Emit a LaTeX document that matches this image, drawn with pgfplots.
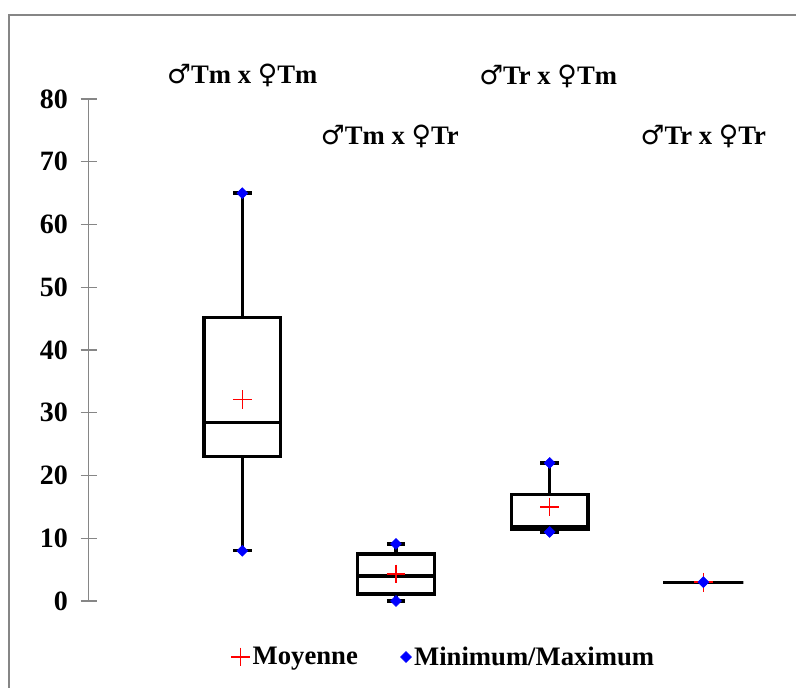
\documentclass[border=0pt]{standalone}
\usepackage{fontspec}
\setmainfont{Liberation Serif}
\newfontfamily\symfont{DejaVu Sans}
\usepackage{pgfplots}
\usepgfplotslibrary{statistics}
\pgfplotsset{compat=1.18}
\newcommand\male{{\symfont\mdseries ♂}}
\newcommand\female{{\symfont\mdseries ♀}}
\newcommand\bigfont{\fontsize{20}{24}\selectfont\bfseries}
\definecolor{axgray}{RGB}{134,134,134}
\begin{document}
\begin{tikzpicture}
\useasboundingbox (-66.45pt,-64.5pt) rectangle (530.55pt,450.75pt);
\draw[axgray, line width=1pt] (-59.7pt,-90pt) -- (-59.7pt,439.5pt) -- (560pt,439.5pt);
\begin{axis}[
  at={(0pt,0pt)}, anchor=south west, scale only axis,
  width=518.7pt, height=376.5pt,
  xmin=0, xmax=4.5, ymin=0, ymax=80,
  clip=false,
  hide x axis,
  axis y line*=left,
  axis line style={axgray, line width=1pt},
  ytick={0,10,...,80},
  tick align=center,
  major tick length=12pt,
  tick style={axgray, line width=1pt},
  yticklabel style={font=\fontsize{21}{24}\selectfont\bfseries, text=black, xshift=-6pt},
  /pgf/number format/assume math mode=true,
  boxplot/draw direction=y,
  legend style={at={(0.514,-0.1116)}, anchor=center, draw=none, fill=none,
    font=\bigfont, legend columns=2,
    /tikz/every even column/.append style={column sep=30pt}},
]
\addplot[draw=black, line width=2.5pt, forget plot,
  boxplot prepared={draw position=1, lower whisker=8, lower quartile=23,
  median=28.5, upper quartile=45.2, upper whisker=65, box extend=0.5, whisker extend=0.12}]
  coordinates {};
\addplot[draw=black, line width=2.5pt, forget plot,
  boxplot prepared={draw position=2, lower whisker=0, lower quartile=1.1,
  median=4, upper quartile=7.5, upper whisker=9.1, box extend=0.5, whisker extend=0.12}]
  coordinates {};
\addplot[draw=black, line width=2.5pt, forget plot,
  boxplot prepared={draw position=3, lower whisker=11, lower quartile=11.5,
  median=11.9, upper quartile=17, upper whisker=22, box extend=0.5, whisker extend=0.12}]
  coordinates {};
\addplot[draw=black, line width=2.5pt, forget plot,
  boxplot prepared={draw position=4, lower whisker=3, lower quartile=3,
  median=3, upper quartile=3, upper whisker=3, box extend=0.52, whisker extend=0.12}]
  coordinates {};
\addplot[only marks, mark=+, red, mark size=7pt, line width=1.1pt]
  coordinates {(1,32.1) (2,4.3) (3,15) (4,3)};
\addlegendentry{Moyenne}
\addplot[only marks, mark=square*, mark options={rotate=45}, blue, mark size=2.9pt]
  coordinates {(1,8) (1,65) (2,0) (2,9.1) (3,11) (3,22) (4,3)};
\addlegendentry{Minimum/Maximum}
\node[font=\bigfont, anchor=base] at (axis cs:1,82.5) {\male Tm x \female Tm};
\node[font=\bigfont, anchor=base] at (axis cs:1.96,72.8) {\male Tm x \female Tr};
\node[font=\bigfont, anchor=base] at (axis cs:2.99,82.3) {\male Tr x \female Tm};
\node[font=\bigfont, anchor=base] at (axis cs:4,72.8) {\male Tr x \female Tr};
\end{axis}
\end{tikzpicture}
\end{document}
